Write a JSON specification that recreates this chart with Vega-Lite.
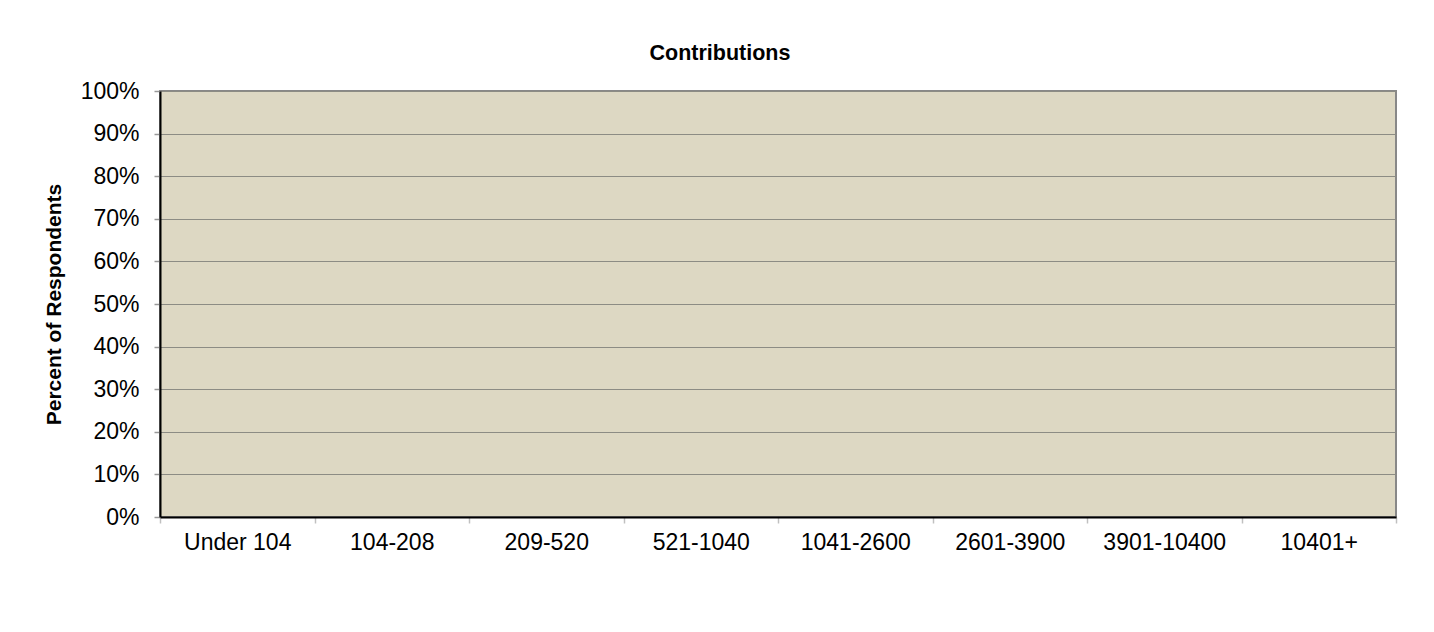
{
  "$schema": "https://vega.github.io/schema/vega-lite/v6.json",
  "autosize": {"type": "none"},
  "width": 1236,
  "height": 426,
  "padding": {"left": 160, "top": 91, "right": 38, "bottom": 115},
  "background": "white",
  "title": {
    "text": "Contributions",
    "font": "Liberation Sans",
    "fontSize": 21.5,
    "fontWeight": "bold",
    "color": "black",
    "anchor": "middle",
    "frame": "group",
    "dx": -58,
    "offset": 16
  },
  "data": {
    "values": [
      {"range": "Under 104", "percent": 0},
      {"range": "104-208", "percent": 0},
      {"range": "209-520", "percent": 0},
      {"range": "521-1040", "percent": 0},
      {"range": "1041-2600", "percent": 0},
      {"range": "2601-3900", "percent": 0},
      {"range": "3901-10400", "percent": 0},
      {"range": "10401+", "percent": 0}
    ]
  },
  "mark": {"type": "bar", "color": "#9999FF"},
  "encoding": {
    "x": {
      "field": "range",
      "type": "nominal",
      "sort": null,
      "title": null,
      "scale": {"paddingInner": 0, "paddingOuter": 0},
      "axis": {
        "labelAngle": 0,
        "labelFont": "Liberation Sans",
        "labelFontSize": 23,
        "labelColor": "black",
        "labelPadding": 8,
        "tickBand": "extent",
        "tickSize": 6,
        "tickColor": "#c0c0c0",
        "tickWidth": 1.5,
        "domainColor": "black",
        "domainWidth": 2,
        "grid": false
      }
    },
    "y": {
      "field": "percent",
      "type": "quantitative",
      "title": "Percent of Respondents",
      "scale": {"domain": [0, 1], "nice": false},
      "axis": {
        "values": [0, 0.1, 0.2, 0.3, 0.4, 0.5, 0.6, 0.7, 0.8, 0.9, 1],
        "format": ".0%",
        "labelFont": "Liberation Sans",
        "labelFontSize": 23,
        "labelColor": "black",
        "labelPadding": 15,
        "tickSize": 6,
        "tickColor": "#999999",
        "tickWidth": 1.5,
        "domainColor": "black",
        "domainWidth": 2,
        "grid": true,
        "gridColor": "#8c8c84",
        "gridWidth": 1,
        "titleFont": "Liberation Sans",
        "titleFontSize": 21,
        "titleFontWeight": "bold",
        "titleColor": "black",
        "titlePadding": 16
      }
    }
  },
  "config": {
    "view": {"fill": "#DDD8C3", "stroke": "#888888", "strokeWidth": 2}
  }
}
